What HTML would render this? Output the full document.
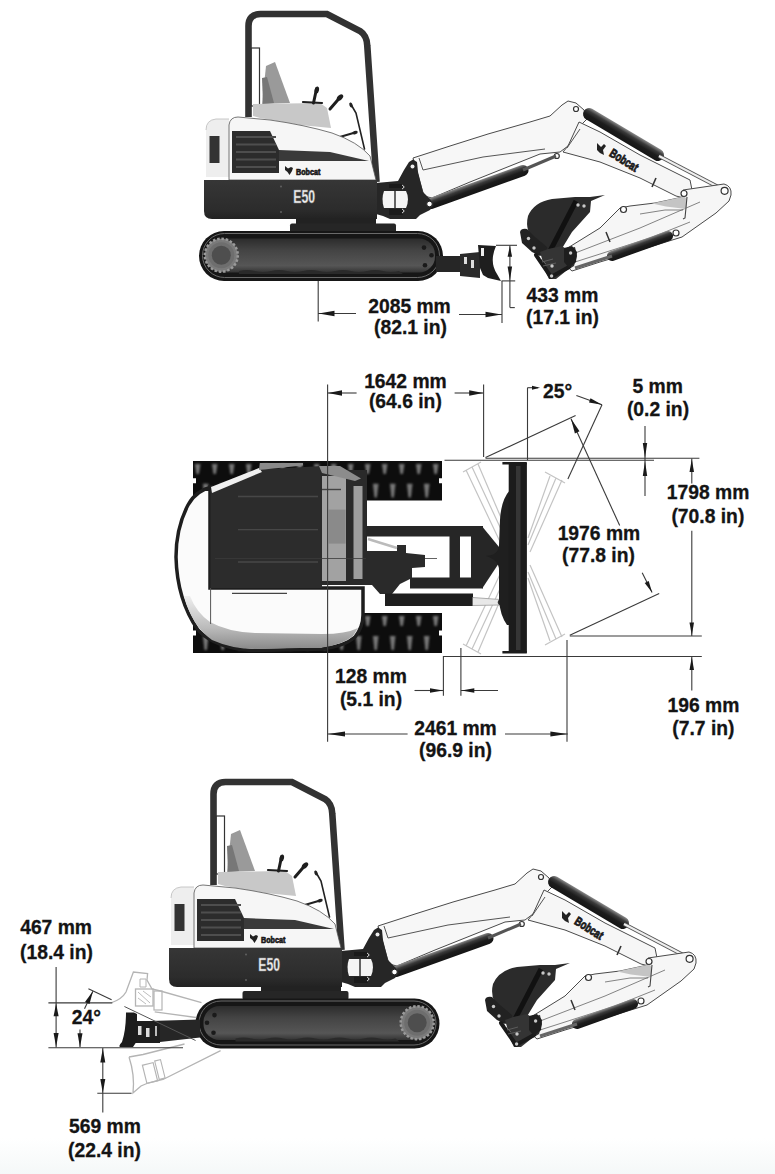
<!DOCTYPE html>
<html><head><meta charset="utf-8"><style>
html,body{margin:0;padding:0;background:#fff;}
body{width:775px;height:1174px;overflow:hidden;}
svg{display:block;}
.logo{font-family:"Liberation Sans",sans-serif;font-weight:bold;font-size:9px;fill:#1a1a1a;stroke:#1a1a1a;stroke-width:0.7px;}
.blogo{font-family:"Liberation Sans",sans-serif;font-weight:bold;font-size:12.5px;fill:#1a1a1a;stroke:#1a1a1a;stroke-width:0.8px;}
.e50{font-family:"Liberation Sans",sans-serif;font-weight:bold;font-size:18px;fill:#f4f4f4;stroke:#888;stroke-width:0.5px;}
.t{font-family:"Liberation Sans",sans-serif;font-weight:bold;font-size:19.3px;fill:#141414;stroke:#141414;stroke-width:0.3px;}
</style></head><body>
<svg width="775" height="1174" viewBox="0 0 775 1174">
<defs><linearGradient id="band" x1="0" y1="0" x2="0" y2="1"><stop offset="0" stop-color="#363636"/><stop offset="0.75" stop-color="#2c2c2c"/><stop offset="1" stop-color="#222"/></linearGradient><filter id="bl1" x="-20%" y="-20%" width="140%" height="140%"><feGaussianBlur stdDeviation="0.9"/></filter><linearGradient id="dsh" x1="0" y1="0" x2="0" y2="1"><stop offset="0" stop-color="#eee"/><stop offset="0.6" stop-color="#bbb"/><stop offset="1" stop-color="#8a8a8a"/></linearGradient><linearGradient id="trk" x1="0" y1="0" x2="0" y2="1"><stop offset="0" stop-color="#2c2c2c"/><stop offset="0.35" stop-color="#444"/><stop offset="0.8" stop-color="#565656"/><stop offset="1" stop-color="#333"/></linearGradient><linearGradient id="bg" x1="0" y1="0" x2="0" y2="1"><stop offset="0" stop-color="#fff"/><stop offset="1" stop-color="#f5f8f8"/></linearGradient></defs>
<rect x="0" y="1138" width="775" height="36" fill="url(#bg)"/>
<g id="up"><path d="M413,158 L450,146 L488,134 L530,122 L550,116 L562,105 L568,101 L576,103 L584,110 L588,118 L582,124 L568,146 L560,152 L540,154 L520,162 L470,182 L432,198 L424,196 Z" fill="#f7f7f7" stroke="#4a4a4a" stroke-width="1"/>
<path d="M423,170 L483,157 L545,149" fill="none" stroke="#555" stroke-width="1"/>
<path d="M419,158 L423,170" fill="none" stroke="#555" stroke-width="1"/>
<path d="M579,122 L600,132 L640,155 L690,180 L692,190 L684,198 L676,196 L640,178 L600,162 L563,152 L568,146 Z" fill="#f6f6f6" stroke="#4a4a4a" stroke-width="1"/>
<path d="M580,129 L567,148" stroke="#555" stroke-width="1"/>
<path d="M656,178 L652,187" stroke="#333" stroke-width="1.6"/>
<text transform="translate(608.5,155.5) rotate(32) scale(0.74,1)" class="blogo">Bobcat</text>
<path d="M597,143 L601,147 L604,144 L606,146 L603,150 L604,155 L600,153 L597,150 Z" fill="#222"/>
<linearGradient id="cg1" gradientUnits="userSpaceOnUse" x1="626.6" y1="129.3" x2="620.4" y2="139.7"><stop offset="0" stop-color="#8a8a8a"/><stop offset="0.3" stop-color="#3a3a3a"/><stop offset="0.6" stop-color="#1c1c1c"/><stop offset="1" stop-color="#151515"/></linearGradient><line x1="589" y1="114" x2="658" y2="155" stroke="url(#cg1)" stroke-width="12" stroke-linecap="round"/>
<line x1="659" y1="156" x2="724" y2="190" stroke="#555" stroke-width="4"/>
<line x1="659" y1="156" x2="724" y2="190" stroke="#eee" stroke-width="2"/>
<path d="M683,190 L724,184 Q732,186 731,195 L729,201 L716,213 L682,237 L640,250 L600,262 L572,271 L563,263 L566,249 L600,228 L620,208 L630,206 L655,203 L683,197 Z" fill="#f6f6f6" stroke="#4a4a4a" stroke-width="1"/>
<path d="M570,255 L640,228 L700,202" fill="none" stroke="#666" stroke-width="0.8"/>
<path d="M575,262 L650,238 L690,222" fill="none" stroke="#666" stroke-width="0.8"/>
<path d="M606,232 L610,242" stroke="#333" stroke-width="1.5"/>
<path d="M652,203.5 L684,196.5 L687,199 L686,209 L666,206.5 Z" fill="#c4c4c4"/>
<path d="M687,197 L685,218 L683,219" fill="none" stroke="#444" stroke-width="1.1"/>
<path d="M640,214 L665,210 L683,210" fill="none" stroke="#666" stroke-width="0.8"/>
<linearGradient id="cg2" gradientUnits="userSpaceOnUse" x1="638.3" y1="241.3" x2="641.7" y2="250.7"><stop offset="0" stop-color="#8a8a8a"/><stop offset="0.3" stop-color="#3a3a3a"/><stop offset="0.6" stop-color="#1c1c1c"/><stop offset="1" stop-color="#151515"/></linearGradient><line x1="612" y1="256" x2="668" y2="236" stroke="url(#cg2)" stroke-width="10" stroke-linecap="round"/>
<line x1="575" y1="268" x2="612" y2="256" stroke="#666" stroke-width="3"/>
<circle cx="576" cy="109" r="2.5" fill="#fff" stroke="#333" stroke-width="1.2"/>
<circle cx="684" cy="193.5" r="3" fill="#fff" stroke="#333" stroke-width="1.2"/>
<circle cx="724.6" cy="190.8" r="3.5" fill="#fff" stroke="#333" stroke-width="1.2"/>
<circle cx="676" cy="233" r="3" fill="#fff" stroke="#333" stroke-width="1.2"/>
<circle cx="623.5" cy="209.5" r="3" fill="#fff" stroke="#333" stroke-width="1.2"/>
<circle cx="556.8" cy="156" r="2.5" fill="#fff" stroke="#333" stroke-width="1.2"/>
<path d="M605,195 L590,197 L575,197 L552,199 Q534,202 528,216 Q524,232 537,244 L549,254 L561,250 L572,232 L590,212 L591,201 Z" fill="#2b2b2b"/>
<path d="M576,201 L549,253" stroke="#111" stroke-width="5"/>
<path d="M520,232 Q521,228 527,229 L535,237 L547,247 L548,252 L540,256 L532,252 L522,243 Z" fill="#222"/>
<path d="M540,252 L548,249 L562,246 L566,249 L575,247 L577,256 L574,266 L566,271 L556,279 L549,279 L546,273 Z" fill="#343434"/>
<path d="M536,255 L551,277" stroke="#1a1a1a" stroke-width="4" stroke-linecap="round"/>
<path d="M551,277 L569,267" stroke="#1a1a1a" stroke-width="4" stroke-linecap="round"/>
<path d="M564,248 L572,246 L577,252 L576,262 L569,268 L564,262 Z" fill="#1e1e1e"/>
<path d="M540,258 L546,264 M542,262 L553,259 M543,266 L556,263" stroke="#666" stroke-width="0.8"/>
<circle cx="528.5" cy="238.5" r="1.7" fill="#c8c8c8"/>
<circle cx="534" cy="248" r="1.7" fill="#c8c8c8"/>
<circle cx="551.6" cy="276" r="1.7" fill="#c8c8c8"/>
<circle cx="570.6" cy="253" r="1.7" fill="#c8c8c8"/>
<circle cx="552" cy="266" r="1.7" fill="#c8c8c8"/>
<circle cx="578" cy="205" r="1.7" fill="#c8c8c8"/>
<circle cx="584" cy="206" r="1.7" fill="#c8c8c8"/>
<linearGradient id="cg3" gradientUnits="userSpaceOnUse" x1="475.1" y1="181.8" x2="478.9" y2="192.2"><stop offset="0" stop-color="#8a8a8a"/><stop offset="0.3" stop-color="#3a3a3a"/><stop offset="0.6" stop-color="#1c1c1c"/><stop offset="1" stop-color="#151515"/></linearGradient><line x1="431" y1="203.5" x2="523" y2="170.5" stroke="url(#cg3)" stroke-width="11" stroke-linecap="round"/>
<line x1="523" y1="170" x2="556" y2="156" stroke="#555" stroke-width="3"/>
<path d="M376,183 L398,181 L404,170 L409,162 L413,159.5 L417,162 L418,172 L423,192 L430,199 L434,205 L430,210 L420,215 L416,219 L390,219 L383,216 L376,214 Z" fill="#262626"/>
<path d="M384,191 L406,191 Q410,199 406,208 L384,208 Q381,199 384,191 Z" fill="#f4f4f4"/>
<line x1="395" y1="191" x2="395" y2="208" stroke="#333" stroke-width="1.5"/>
<rect x="389" y="184" width="14" height="4" fill="#1a1a1a"/><rect x="389" y="209" width="14" height="6" fill="#1a1a1a"/>
<circle cx="412.5" cy="166.5" r="2" fill="#eee"/>
<circle cx="429.5" cy="204" r="2.8" fill="#fff" stroke="#222" stroke-width="1"/>
<path d="M402,185 q4,2 0,4 M402,209 q4,2 0,4" fill="none" stroke="#ddd" stroke-width="1"/>
<path d="M248.5,117 L248.5,26 Q248.5,14 260.5,14 L327,14 L360,31 Q367,35.5 367.3,46 L376.5,182" fill="none" stroke="#323232" stroke-width="6.6"/>
<rect x="251" y="48" width="8.5" height="58" fill="none" stroke="#333" stroke-width="1.2"/>
<path d="M266,66 L275,62 L290,103 L262,104 Z" fill="#9a9a9a"/>
<path d="M262,78 L267,77 L274,103 L263,104 Z" fill="#777"/>
<path d="M253,104 L320,103 L327,108 L331,128 L300,125 L260,118 L253,116 Z" fill="#c8c8c8"/>
<path d="M316.5,89 L313.5,103" fill="none" stroke="#1e1e1e" stroke-width="3" stroke-linecap="round"/>
<ellipse cx="316.8" cy="90" rx="2.2" ry="3.6" fill="#1e1e1e" transform="rotate(12 316.8 90)"/>
<path d="M303,102 L322,103" stroke="#1e1e1e" stroke-width="2.2" stroke-linecap="round"/>
<path d="M339.5,98 L330,109" fill="none" stroke="#1e1e1e" stroke-width="3" stroke-linecap="round"/>
<ellipse cx="340" cy="97.5" rx="2.4" ry="3.8" fill="#1e1e1e" transform="rotate(45 340 97.5)"/>
<path d="M351.6,105.5 L356,113 L364.5,149" fill="none" stroke="#222" stroke-width="1.6" stroke-linecap="round"/>
<ellipse cx="351" cy="105" rx="1.6" ry="2.6" fill="#222" transform="rotate(-20 351 105)"/>
<path d="M356,132.3 L338,137.5" fill="none" stroke="#222" stroke-width="2" stroke-linecap="round"/>
<ellipse cx="355" cy="132.6" rx="2.8" ry="1.7" fill="#222" transform="rotate(-16 355 132.6)"/>
<path d="M206,177 L206,130 Q206,120 216,119 L229,119 L229,177 Z" fill="#eeeeee"/>
<path d="M206,130 Q206,120 216,119 L229,119" fill="none" stroke="#bbb" stroke-width="0.8"/>
<rect x="209.5" y="136" width="10" height="27" fill="#333"/>
<path d="M229,180 L229,125 Q230,117 238,117 L270,120 Q305,125 332,133 Q358,142 370,156 L376,180 Z" fill="#f6f6f6" stroke="#555" stroke-width="0.8"/>
<path d="M232,131 L270,131 L279,150 L279,173 L232,173 Z" fill="#2c2c2c"/>
<line x1="236" y1="137" x2="276" y2="137" stroke="#4e4e4e" stroke-width="2.2"/>
<line x1="236" y1="144.5" x2="276" y2="144.5" stroke="#4e4e4e" stroke-width="2.2"/>
<line x1="236" y1="152" x2="276" y2="152" stroke="#4e4e4e" stroke-width="2.2"/>
<line x1="236" y1="159.5" x2="276" y2="159.5" stroke="#4e4e4e" stroke-width="2.2"/>
<line x1="236" y1="167" x2="276" y2="167" stroke="#4e4e4e" stroke-width="2.2"/>
<path d="M279,150 L330,152 L369,161 L279,161 Z" fill="#3a3a3a"/>
<text transform="translate(296,174.8) scale(0.8,1)" class="logo">Bobcat</text>
<path d="M285,166 L288,168.5 L291,167 L293,168 L292,171 L289.5,175 L287.5,172 L285,170 Z" fill="#222"/>
<path d="M204,180 L377,180 L377,219 L212,219 Q204,219 204,211 Z" fill="url(#band)"/>
<circle cx="281" cy="186.5" r="0.9" fill="#666"/><circle cx="281" cy="212" r="0.9" fill="#666"/>
<text transform="translate(304.2,203.2) scale(0.68,1)" text-anchor="middle" class="e50">E50</text>
<rect x="296" y="218" width="80" height="7" fill="#222"/></g>
<rect x="290" y="223.5" width="106" height="9" rx="2" fill="#262626"/>
<rect x="199" y="231" width="244" height="50" rx="25" fill="#161616"/>
<rect x="202.5" y="233.5" width="237" height="44" rx="22" fill="none" stroke="#6a6a6a" stroke-width="1"/>
<rect x="207" y="238.5" width="228" height="34" rx="16" fill="url(#trk)"/>
<path d="M239,271 q8,-2 16,0 t16,0 t16,0 t16,0 t16,0 t16,0 t16,0 t16,0 t16,0 t16,0 L403,274 L239,274 Z" fill="#2a2a2a"/>
<circle cx="221.3" cy="255.2" r="16.5" fill="#7a7a7a" stroke="#9a9a9a" stroke-width="2.5" stroke-dasharray="2.5 1.8"/>
<circle cx="221.3" cy="255.2" r="13" fill="#6e6e6e"/>
<circle cx="221.3" cy="255.2" r="9.5" fill="#4e4e4e"/>
<circle cx="424" cy="247.6" r="2.3" fill="#1a1a1a"/>
<circle cx="431.5" cy="255.2" r="2.3" fill="#1a1a1a"/>
<circle cx="425" cy="265.2" r="2.3" fill="#1a1a1a"/>
<path d="M436,256 L462,256 L462,272 L436,272 Z" fill="#262626"/>
<path d="M460,254 L480,252 L480,278 L460,276 Z" fill="#2a2a2a"/>
<rect x="464" y="257" width="3" height="7" fill="#ddd"/><rect x="471" y="260" width="3" height="8" fill="#ddd"/>
<path d="M478,245 L496,246 Q489,262 497,274 L501,281 L488,278 L483,275 L480,268 Z" fill="#1e1e1e"/>
<rect x="481" y="248" width="3" height="8" fill="#eee"/>
<path d="M463,472 L481,462 M466,470 L503,548 M472,467 L506,540 M478,464 L508,534" stroke="#c4c4c4" stroke-width="1.2" fill="none"/>
<path d="M463,644 L481,654 M466,646 L503,568 M472,649 L506,576 M478,652 L508,582" stroke="#c4c4c4" stroke-width="1.2" fill="none"/>
<path d="M545,472 L565,483 M562,480 L530,552 M556,478 L528,545 M550,476 L528,538" stroke="#c4c4c4" stroke-width="1.2" fill="none"/>
<path d="M545,645 L565,634 M562,637 L530,565 M556,639 L528,572 M550,641 L528,578" stroke="#c4c4c4" stroke-width="1.2" fill="none"/>
<path d="M193,461 L442,461 L442,500.5 L193,500.5 Z" fill="#0d0d0d"/>
<rect x="192" y="478.25" width="4" height="5" fill="#fff"/>
<rect x="439" y="478.25" width="4" height="5" fill="#fff"/>
<g filter="url(#bl1)">
<path d="M194.89999999999998,464 L200.5,464 L198.89999999999998,474 L196.5,474 Z" fill="#777"/>
<path d="M211.89999999999998,464 L217.5,464 L215.89999999999998,474 L213.5,474 Z" fill="#777"/>
<path d="M228.89999999999998,464 L234.5,464 L232.89999999999998,474 L230.5,474 Z" fill="#777"/>
<path d="M245.89999999999998,464 L251.5,464 L249.89999999999998,474 L247.5,474 Z" fill="#777"/>
<path d="M262.9,464 L268.5,464 L266.9,474 L264.5,474 Z" fill="#777"/>
<path d="M279.9,464 L285.5,464 L283.9,474 L281.5,474 Z" fill="#777"/>
<path d="M296.9,464 L302.5,464 L300.9,474 L298.5,474 Z" fill="#777"/>
<path d="M313.9,464 L319.5,464 L317.9,474 L315.5,474 Z" fill="#777"/>
<path d="M330.9,464 L336.5,464 L334.9,474 L332.5,474 Z" fill="#777"/>
<path d="M347.9,464 L353.5,464 L351.9,474 L349.5,474 Z" fill="#777"/>
<path d="M364.9,464 L370.5,464 L368.9,474 L366.5,474 Z" fill="#777"/>
<path d="M381.9,464 L387.5,464 L385.9,474 L383.5,474 Z" fill="#777"/>
<path d="M398.9,464 L404.5,464 L402.9,474 L400.5,474 Z" fill="#777"/>
<path d="M415.9,464 L421.5,464 L419.9,474 L417.5,474 Z" fill="#777"/>
<path d="M432.9,464 L438.5,464 L436.9,474 L434.5,474 Z" fill="#777"/>
</g>
<g filter="url(#bl1)">
<path d="M202.89999999999998,483.75 L208.5,483.75 L206.89999999999998,497.5 L204.5,497.5 Z" fill="#777"/>
<path d="M219.89999999999998,483.75 L225.5,483.75 L223.89999999999998,497.5 L221.5,497.5 Z" fill="#777"/>
<path d="M236.89999999999998,483.75 L242.5,483.75 L240.89999999999998,497.5 L238.5,497.5 Z" fill="#777"/>
<path d="M253.89999999999998,483.75 L259.5,483.75 L257.9,497.5 L255.5,497.5 Z" fill="#777"/>
<path d="M270.9,483.75 L276.5,483.75 L274.9,497.5 L272.5,497.5 Z" fill="#777"/>
<path d="M287.9,483.75 L293.5,483.75 L291.9,497.5 L289.5,497.5 Z" fill="#777"/>
<path d="M304.9,483.75 L310.5,483.75 L308.9,497.5 L306.5,497.5 Z" fill="#777"/>
<path d="M321.9,483.75 L327.5,483.75 L325.9,497.5 L323.5,497.5 Z" fill="#777"/>
<path d="M338.9,483.75 L344.5,483.75 L342.9,497.5 L340.5,497.5 Z" fill="#777"/>
<path d="M355.9,483.75 L361.5,483.75 L359.9,497.5 L357.5,497.5 Z" fill="#777"/>
<path d="M372.9,483.75 L378.5,483.75 L376.9,497.5 L374.5,497.5 Z" fill="#777"/>
<path d="M389.9,483.75 L395.5,483.75 L393.9,497.5 L391.5,497.5 Z" fill="#777"/>
<path d="M406.9,483.75 L412.5,483.75 L410.9,497.5 L408.5,497.5 Z" fill="#777"/>
<path d="M423.9,483.75 L429.5,483.75 L427.9,497.5 L425.5,497.5 Z" fill="#777"/>
</g>
<path d="M193,613 L442,613 L442,653 L193,653 Z" fill="#0d0d0d"/>
<rect x="192" y="630.5" width="4" height="5" fill="#fff"/>
<rect x="439" y="630.5" width="4" height="5" fill="#fff"/>
<g filter="url(#bl1)">
<path d="M194.89999999999998,616 L200.5,616 L198.89999999999998,626 L196.5,626 Z" fill="#777"/>
<path d="M211.89999999999998,616 L217.5,616 L215.89999999999998,626 L213.5,626 Z" fill="#777"/>
<path d="M228.89999999999998,616 L234.5,616 L232.89999999999998,626 L230.5,626 Z" fill="#777"/>
<path d="M245.89999999999998,616 L251.5,616 L249.89999999999998,626 L247.5,626 Z" fill="#777"/>
<path d="M262.9,616 L268.5,616 L266.9,626 L264.5,626 Z" fill="#777"/>
<path d="M279.9,616 L285.5,616 L283.9,626 L281.5,626 Z" fill="#777"/>
<path d="M296.9,616 L302.5,616 L300.9,626 L298.5,626 Z" fill="#777"/>
<path d="M313.9,616 L319.5,616 L317.9,626 L315.5,626 Z" fill="#777"/>
<path d="M330.9,616 L336.5,616 L334.9,626 L332.5,626 Z" fill="#777"/>
<path d="M347.9,616 L353.5,616 L351.9,626 L349.5,626 Z" fill="#777"/>
<path d="M364.9,616 L370.5,616 L368.9,626 L366.5,626 Z" fill="#777"/>
<path d="M381.9,616 L387.5,616 L385.9,626 L383.5,626 Z" fill="#777"/>
<path d="M398.9,616 L404.5,616 L402.9,626 L400.5,626 Z" fill="#777"/>
<path d="M415.9,616 L421.5,616 L419.9,626 L417.5,626 Z" fill="#777"/>
<path d="M432.9,616 L438.5,616 L436.9,626 L434.5,626 Z" fill="#777"/>
</g>
<g filter="url(#bl1)">
<path d="M202.89999999999998,636.0 L208.5,636.0 L206.89999999999998,650 L204.5,650 Z" fill="#777"/>
<path d="M219.89999999999998,636.0 L225.5,636.0 L223.89999999999998,650 L221.5,650 Z" fill="#777"/>
<path d="M236.89999999999998,636.0 L242.5,636.0 L240.89999999999998,650 L238.5,650 Z" fill="#777"/>
<path d="M253.89999999999998,636.0 L259.5,636.0 L257.9,650 L255.5,650 Z" fill="#777"/>
<path d="M270.9,636.0 L276.5,636.0 L274.9,650 L272.5,650 Z" fill="#777"/>
<path d="M287.9,636.0 L293.5,636.0 L291.9,650 L289.5,650 Z" fill="#777"/>
<path d="M304.9,636.0 L310.5,636.0 L308.9,650 L306.5,650 Z" fill="#777"/>
<path d="M321.9,636.0 L327.5,636.0 L325.9,650 L323.5,650 Z" fill="#777"/>
<path d="M338.9,636.0 L344.5,636.0 L342.9,650 L340.5,650 Z" fill="#777"/>
<path d="M355.9,636.0 L361.5,636.0 L359.9,650 L357.5,650 Z" fill="#777"/>
<path d="M372.9,636.0 L378.5,636.0 L376.9,650 L374.5,650 Z" fill="#777"/>
<path d="M389.9,636.0 L395.5,636.0 L393.9,650 L391.5,650 Z" fill="#777"/>
<path d="M406.9,636.0 L412.5,636.0 L410.9,650 L408.5,650 Z" fill="#777"/>
<path d="M423.9,636.0 L429.5,636.0 L427.9,650 L425.5,650 Z" fill="#777"/>
</g>
<path d="M213,487 Q196,490 188,505 Q176,528 176,557 Q177,600 198,630 Q215,648 252,650.5 L322,649 Q345,646 355,637 Q363,627 363,615 L363,588 L210,588 L210,487 Z" fill="#fbfbfb" stroke="#1e1e1e" stroke-width="3.5"/>
<path d="M184,596 Q192,626 212,640 Q232,649 255,649 L322,647.5 Q343,644.5 353,636 L358,628 Q346,634 322,634 L255,633 Q228,632 210,622 Q196,612 190,596 Z" fill="url(#dsh)"/>
<line x1="210.6" y1="588" x2="210.6" y2="624" stroke="#555" stroke-width="1"/>
<line x1="232" y1="593.4" x2="287" y2="593.4" stroke="#444" stroke-width="1.2"/>
<path d="M210.5,490 L259,469.5 L322,466 L322,588 L210.5,588 Z" fill="#2c2c2c"/>
<path d="M211,487 L259,468 L262,472 L212,493 Z" fill="#f0f0f0"/>
<path d="M259.8,463 L303,463 L303,465.5 L259,470 Z" fill="#8a8a8a"/>
<line x1="238" y1="496.5" x2="318" y2="496.5" stroke="#474747" stroke-width="1.3"/>
<line x1="238" y1="529.7" x2="318" y2="529.7" stroke="#474747" stroke-width="1.3"/>
<line x1="238" y1="562" x2="318" y2="562" stroke="#474747" stroke-width="1.3"/>
<rect x="320" y="470" width="47" height="115" fill="#2a2a2a"/>
<rect x="322" y="476" width="24" height="105" fill="#a2a2a2"/>
<rect x="328.6" y="509.6" width="17" height="34" fill="#8a8a8a"/>
<rect x="353.5" y="486" width="9" height="93" fill="#9e9e9e"/>
<path d="M319,466 L340,466 L361,478.6 L355,481 L322,473 Z" fill="#8c8c8c"/>
<line x1="215" y1="558.5" x2="437" y2="558.5" stroke="#3a3a3a" stroke-width="0.8"/>
<line x1="322" y1="489.5" x2="341" y2="489.5" stroke="#444" stroke-width="1.4"/>
<rect x="366" y="526" width="117" height="10.5" fill="#262626"/>
<rect x="410" y="577.5" width="73" height="11" fill="#262626"/>
<rect x="449.5" y="536" width="10.5" height="42" fill="#262626"/>
<rect x="471" y="536" width="12" height="42" fill="#262626"/>
<path d="M482,526.3 L499,547 L499,563 L482,588.7 Z" fill="#262626"/>
<path d="M366,551 L397,551 L397,545 L406,545 L406,553 L425,555 L425,567 L412,568 L412,578 L400,584 L392,594 L380,594 L372,585 L366,585 Z" fill="#2a2a2a"/>
<line x1="368" y1="539" x2="397" y2="548" stroke="#bbb" stroke-width="2.5"/>
<rect x="385" y="593.5" width="88" height="12.5" fill="#1e1e1e"/>
<path d="M472.6,597.5 L500,599.5 L500,605 L472.6,605.5" fill="#e8e8e8" stroke="#999" stroke-width="0.8"/>
<circle cx="500.6" cy="602.2" r="2.8" fill="#333"/>
<path d="M510,490 Q501,500 500,520 L499,545 Q499,555 486,556 Q499,560 499,570 L499,600 Q500,615 507,625 L511,625 L511,490 Z" fill="#1f1f1f"/>
<rect x="508.7" y="463" width="18.2" height="189.8" fill="#1c1c1c"/>
<rect x="516" y="466" width="4.5" height="184" fill="#363636"/>
<rect x="502.4" y="462" width="24.4" height="2.5" fill="#1c1c1c"/><rect x="502.4" y="651" width="24.4" height="2.5" fill="#1c1c1c"/>
<line x1="527.5" y1="387.7" x2="527.5" y2="460.2" stroke="#3a3a3a" stroke-width="1.1"/>
<line x1="527.5" y1="387.7" x2="538" y2="387.7" stroke="#3a3a3a" stroke-width="1.1"/>
<polygon points="540.0,387.7 532.0,389.7 532.0,385.7" fill="#1a1a1a"/>
<line x1="485.5" y1="457.5" x2="575.6" y2="415.6" stroke="#3a3a3a" stroke-width="1.1"/>
<line x1="602" y1="404.8" x2="567.9" y2="479.1" stroke="#3a3a3a" stroke-width="1.1"/>
<line x1="576.4" y1="395.5" x2="602" y2="404.8" stroke="#3a3a3a" stroke-width="1.1"/>
<polygon points="602.0,404.8 589.0,402.5 590.5,398.2" fill="#1a1a1a"/>
<line x1="485.5" y1="458.2" x2="699.4" y2="458.2" stroke="#3a3a3a" stroke-width="1.1"/>
<line x1="444.5" y1="460.2" x2="654" y2="460.2" stroke="#3a3a3a" stroke-width="1.1"/>
<line x1="645" y1="426" x2="645" y2="496" stroke="#3a3a3a" stroke-width="1.1"/>
<polygon points="645.0,458.0 642.8,443.0 647.2,443.0" fill="#1a1a1a"/>
<polygon points="645.0,461.0 647.2,476.0 642.8,476.0" fill="#1a1a1a"/>
<line x1="691.8" y1="458.4" x2="691.8" y2="483.4" stroke="#3a3a3a" stroke-width="1.1"/>
<polygon points="691.8,459.0 694.0,472.0 689.5,472.0" fill="#1a1a1a"/>
<line x1="691.8" y1="530.8" x2="691.8" y2="636" stroke="#3a3a3a" stroke-width="1.1"/>
<polygon points="691.8,635.5 689.5,622.5 694.0,622.5" fill="#1a1a1a"/>
<line x1="571" y1="418.7" x2="619.7" y2="525.6" stroke="#3a3a3a" stroke-width="1.1"/>
<polygon points="571.0,418.7 579.5,431.3 574.9,433.4" fill="#1a1a1a"/>
<line x1="642.2" y1="572.8" x2="652.1" y2="592.6" stroke="#3a3a3a" stroke-width="1.1"/>
<polygon points="652.1,592.6 644.7,582.9 648.7,580.9" fill="#1a1a1a"/>
<line x1="569.8" y1="635.2" x2="659.2" y2="593.5" stroke="#3a3a3a" stroke-width="1.1"/>
<line x1="569.8" y1="636" x2="701.8" y2="636" stroke="#3a3a3a" stroke-width="1.1"/>
<line x1="443" y1="656.5" x2="701.8" y2="656.5" stroke="#3a3a3a" stroke-width="1.1"/>
<line x1="567" y1="640" x2="567" y2="741.7" stroke="#3a3a3a" stroke-width="1.1"/>
<line x1="691.8" y1="656.5" x2="691.8" y2="690.6" stroke="#3a3a3a" stroke-width="1.1"/>
<polygon points="691.8,657.0 694.0,670.0 689.5,670.0" fill="#1a1a1a"/>
<line x1="443.4" y1="656" x2="443.4" y2="695.7" stroke="#3a3a3a" stroke-width="1.1"/>
<line x1="460.9" y1="648" x2="460.9" y2="695.7" stroke="#3a3a3a" stroke-width="1.1"/>
<line x1="414.5" y1="690.5" x2="443.4" y2="690.5" stroke="#3a3a3a" stroke-width="1.1"/>
<polygon points="443.0,690.5 430.0,692.8 430.0,688.2" fill="#1a1a1a"/>
<line x1="460.9" y1="690.5" x2="498" y2="690.5" stroke="#3a3a3a" stroke-width="1.1"/>
<polygon points="461.3,690.5 474.3,688.2 474.3,692.8" fill="#1a1a1a"/>
<line x1="327.6" y1="734" x2="407.6" y2="734" stroke="#3a3a3a" stroke-width="1.1"/>
<polygon points="328.0,734.0 345.0,731.4 345.0,736.6" fill="#1a1a1a"/>
<line x1="505" y1="734" x2="567.8" y2="734" stroke="#3a3a3a" stroke-width="1.1"/>
<polygon points="567.4,734.0 550.4,736.6 550.4,731.4" fill="#1a1a1a"/>
<use href="#up" transform="translate(-35,768)"/>
<rect x="242.5" y="991.0" width="106" height="9" rx="2" fill="#262626"/>
<rect x="195.5" y="998.5" width="244" height="50" rx="25" fill="#161616"/>
<rect x="199.0" y="1001.0" width="237" height="44" rx="22" fill="none" stroke="#6a6a6a" stroke-width="1"/>
<rect x="203.5" y="1006.0" width="228" height="34" rx="16" fill="url(#trk)"/>
<path d="M235.5,1038.5 q8,-2 16,0 t16,0 t16,0 t16,0 t16,0 t16,0 t16,0 t16,0 t16,0 t16,0 L399.5,1041.5 L235.5,1041.5 Z" fill="#2a2a2a"/>
<circle cx="417.2" cy="1022.7" r="16.5" fill="#7a7a7a" stroke="#9a9a9a" stroke-width="2.5" stroke-dasharray="2.5 1.8"/>
<circle cx="417.2" cy="1022.7" r="13" fill="#6e6e6e"/>
<circle cx="417.2" cy="1022.7" r="9.5" fill="#4e4e4e"/>
<circle cx="214.5" cy="1015.1" r="2.3" fill="#1a1a1a"/>
<circle cx="207.0" cy="1022.7" r="2.3" fill="#1a1a1a"/>
<circle cx="213.5" cy="1032.7" r="2.3" fill="#1a1a1a"/>
<path d="M112,1002.5 Q122,999 126,992 Q129,984 133.4,972 L147.6,973.5 L147,980 L152,989 L160.4,991 L201.5,1002.6 M154.7,1011.8 L196,1017.5" fill="none" stroke="#b4b4b4" stroke-width="1.3"/>
<rect x="135.5" y="989" width="17.5" height="17" fill="none" stroke="#b4b4b4" stroke-width="1.3"/>
<rect x="154" y="991" width="8" height="19" fill="none" stroke="#b4b4b4" stroke-width="1.2"/>
<path d="M138,992 L150,1003 M138,998 L146,1004 M143,991 L151,997" stroke="#b4b4b4" stroke-width="0.9"/>
<path d="M140,979 L146,979 L146,987 L140,987 Z" fill="none" stroke="#b4b4b4" stroke-width="1"/>
<path d="M129,1057 L143,1054.5 L184.5,1044 M164,1079 L220.6,1050.6 M129,1057 Q135,1075 133,1093 L141,1086 L148,1083 L164,1079" fill="none" stroke="#b4b4b4" stroke-width="1.3"/>
<rect x="144.5" y="1063.7" width="11" height="18.6" fill="none" stroke="#b4b4b4" stroke-width="1.2" transform="rotate(-14 150 1073)"/>
<rect x="157" y="1060" width="6" height="19" fill="none" stroke="#b4b4b4" stroke-width="1.1" transform="rotate(-14 160 1070)"/>
<path d="M150,1021 L200,1019.5 L200,1037.5 L160,1042 L150,1042 Z" fill="#262626"/>
<path d="M134,1021 L160,1021 L160,1043 L134,1043 Z" fill="#1e1e1e"/>
<rect x="138" y="1026" width="3.5" height="9" fill="#ddd"/><rect x="146" y="1028" width="3.5" height="9" fill="#ddd"/><rect x="155" y="1026" width="2" height="10" fill="#bbb"/>
<path d="M126,1012.6 L134,1012.6 L137,1014 L137,1041 L133,1047 L120,1047 Q118,1046 122,1042 Q126,1030 126,1012.6 Z" fill="#1c1c1c"/>
<line x1="124.4" y1="1006.5" x2="195.6" y2="1040.5" stroke="#555" stroke-width="1"/>
<line x1="56.1" y1="967" x2="56.1" y2="1047.4" stroke="#3a3a3a" stroke-width="1.1"/>
<polygon points="56.1,1003.3 58.6,1016.3 53.6,1016.3" fill="#1a1a1a"/>
<polygon points="56.1,1047.0 53.6,1033.0 58.6,1033.0" fill="#1a1a1a"/>
<line x1="48.4" y1="1002.9" x2="112.3" y2="1002.9" stroke="#3a3a3a" stroke-width="1.1"/>
<line x1="48.4" y1="1047.8" x2="183" y2="1047.8" stroke="#3a3a3a" stroke-width="1.1"/>
<line x1="88.4" y1="988.7" x2="111.6" y2="999.7" stroke="#3a3a3a" stroke-width="1.1"/>
<line x1="84.5" y1="1008.7" x2="92.9" y2="991.3" stroke="#3a3a3a" stroke-width="1.1"/>
<polygon points="92.9,991.3 89.5,1004.1 85.0,1001.9" fill="#1a1a1a"/>
<line x1="80" y1="1029.4" x2="80" y2="1047" stroke="#3a3a3a" stroke-width="1.1"/>
<polygon points="80.0,1047.2 77.5,1033.2 82.5,1033.2" fill="#1a1a1a"/>
<line x1="102.8" y1="1048" x2="102.8" y2="1112.6" stroke="#3a3a3a" stroke-width="1.1"/>
<polygon points="102.8,1048.5 105.3,1062.5 100.3,1062.5" fill="#1a1a1a"/>
<polygon points="102.8,1093.0 100.3,1079.0 105.3,1079.0" fill="#1a1a1a"/>
<line x1="97.3" y1="1093.2" x2="131.6" y2="1093.2" stroke="#3a3a3a" stroke-width="1.1"/>
<text x="409.5" y="313" text-anchor="middle" class="t">2085 mm</text>
<text x="410.5" y="334" text-anchor="middle" class="t">(82.1 in)</text>
<text x="562.5" y="302.2" text-anchor="middle" class="t">433 mm</text>
<text x="562.5" y="324" text-anchor="middle" class="t">(17.1 in)</text>
<text x="405.4" y="387.5" text-anchor="middle" class="t">1642 mm</text>
<text x="405.4" y="408" text-anchor="middle" class="t">(64.6 in)</text>
<text x="543" y="397.6" class="t">25°</text>
<text x="657.7" y="393.2" text-anchor="middle" class="t">5 mm</text>
<text x="658" y="416" text-anchor="middle" class="t">(0.2 in)</text>
<text x="708.1" y="499.2" text-anchor="middle" class="t">1798 mm</text>
<text x="707.9" y="522.5" text-anchor="middle" class="t">(70.8 in)</text>
<text x="598.9" y="539.5" text-anchor="middle" class="t">1976 mm</text>
<text x="598.5" y="562" text-anchor="middle" class="t">(77.8 in)</text>
<text x="371" y="682.9" text-anchor="middle" class="t">128 mm</text>
<text x="371" y="706.2" text-anchor="middle" class="t">(5.1 in)</text>
<text x="455.5" y="734.8" text-anchor="middle" class="t">2461 mm</text>
<text x="455.5" y="756.7" text-anchor="middle" class="t">(96.9 in)</text>
<text x="703.5" y="712.4" text-anchor="middle" class="t">196 mm</text>
<text x="703.4" y="734.6" text-anchor="middle" class="t">(7.7 in)</text>
<text x="56.1" y="933.5" text-anchor="middle" class="t">467 mm</text>
<text x="56.5" y="958.8" text-anchor="middle" class="t">(18.4 in)</text>
<text x="71.7" y="1023.9" class="t">24°</text>
<text x="104.9" y="1133.2" text-anchor="middle" class="t">569 mm</text>
<text x="104.5" y="1156.5" text-anchor="middle" class="t">(22.4 in)</text>
<line x1="318.2" y1="281" x2="318.2" y2="321.5" stroke="#3a3a3a" stroke-width="1.1"/>
<line x1="502" y1="281" x2="502" y2="323" stroke="#3a3a3a" stroke-width="1.1"/>
<line x1="318" y1="313.5" x2="356" y2="313.5" stroke="#3a3a3a" stroke-width="1.1"/>
<polygon points="318.5,313.5 334.5,310.8 334.5,316.2" fill="#1a1a1a"/>
<line x1="459" y1="314.5" x2="502" y2="314.5" stroke="#3a3a3a" stroke-width="1.1"/>
<polygon points="501.5,314.5 485.5,317.2 485.5,311.8" fill="#1a1a1a"/>
<line x1="496" y1="245.3" x2="517" y2="245.3" stroke="#3a3a3a" stroke-width="1.1"/>
<line x1="501.5" y1="280.9" x2="515.2" y2="280.9" stroke="#3a3a3a" stroke-width="1.1"/>
<line x1="509.9" y1="245.3" x2="509.9" y2="307.6" stroke="#3a3a3a" stroke-width="1.1"/>
<line x1="509.9" y1="307.6" x2="514.8" y2="307.6" stroke="#3a3a3a" stroke-width="1.1"/>
<polygon points="509.9,245.8 512.1,256.8 507.6,256.8" fill="#1a1a1a"/>
<polygon points="509.9,280.4 507.6,266.4 512.1,266.4" fill="#1a1a1a"/>
<line x1="327.6" y1="384.5" x2="327.6" y2="741.7" stroke="#3a3a3a" stroke-width="1.1"/>
<line x1="483.6" y1="384.5" x2="483.6" y2="457" stroke="#3a3a3a" stroke-width="1.1"/>
<line x1="327.6" y1="393" x2="356.6" y2="393" stroke="#3a3a3a" stroke-width="1.1"/>
<polygon points="328.0,393.0 342.0,390.2 342.0,395.8" fill="#1a1a1a"/>
<line x1="454.6" y1="393" x2="483.6" y2="393" stroke="#3a3a3a" stroke-width="1.1"/>
<polygon points="483.2,393.0 469.2,395.8 469.2,390.2" fill="#1a1a1a"/>
</svg></body></html>
